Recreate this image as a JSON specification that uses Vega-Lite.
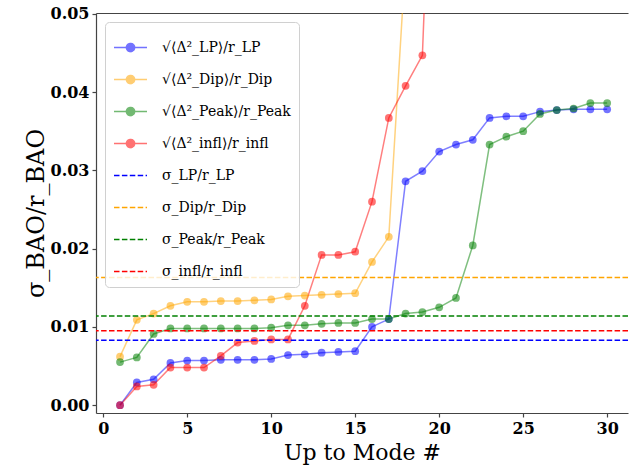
{
  "$schema": "https://vega.github.io/schema/vega-lite/v6.json",
  "width": 532,
  "height": 400,
  "autosize": {"type": "none"},
  "padding": {"left": 96, "top": 13, "right": 1, "bottom": 53},
  "background": "white",
  "config": {
    "view": {"stroke": null},
    "axis": {
      "domainColor": "#444", "domainWidth": 1.2, "tickColor": "#444", "tickSize": 4, "tickWidth": 1.2,
      "grid": false, "labelFont": "DejaVu Serif", "labelFontWeight": "bold", "labelFontSize": 16,
      "labelColor": "black", "titleFont": "DejaVu Serif", "titleFontWeight": "normal", "titleColor": "black"
    },
    "legend": {
      "orient": "none", "legendX": 9, "legendY": 9,
      "padding": 8, "rowPadding": 7, "symbolSize": 1089, "symbolStrokeWidth": 1.5,
      "labelFont": "DejaVu Serif", "labelFontSize": 14, "labelColor": "black", "labelOffset": 14,
      "fillColor": "rgba(255,255,255,0.8)", "strokeColor": "#d0d0d0", "cornerRadius": 4, "title": null
    }
  },
  "datasets": {
    "curves": [
      {"mode": 1, "value": 0.0, "series": "√⟨Δ²_LP⟩/r_LP"},
      {"mode": 2, "value": 0.0029, "series": "√⟨Δ²_LP⟩/r_LP"},
      {"mode": 3, "value": 0.0033, "series": "√⟨Δ²_LP⟩/r_LP"},
      {"mode": 4, "value": 0.0054, "series": "√⟨Δ²_LP⟩/r_LP"},
      {"mode": 5, "value": 0.0057, "series": "√⟨Δ²_LP⟩/r_LP"},
      {"mode": 6, "value": 0.0057, "series": "√⟨Δ²_LP⟩/r_LP"},
      {"mode": 7, "value": 0.0058, "series": "√⟨Δ²_LP⟩/r_LP"},
      {"mode": 8, "value": 0.0058, "series": "√⟨Δ²_LP⟩/r_LP"},
      {"mode": 9, "value": 0.0058, "series": "√⟨Δ²_LP⟩/r_LP"},
      {"mode": 10, "value": 0.0059, "series": "√⟨Δ²_LP⟩/r_LP"},
      {"mode": 11, "value": 0.0064, "series": "√⟨Δ²_LP⟩/r_LP"},
      {"mode": 12, "value": 0.0065, "series": "√⟨Δ²_LP⟩/r_LP"},
      {"mode": 13, "value": 0.0067, "series": "√⟨Δ²_LP⟩/r_LP"},
      {"mode": 14, "value": 0.0068, "series": "√⟨Δ²_LP⟩/r_LP"},
      {"mode": 15, "value": 0.0069, "series": "√⟨Δ²_LP⟩/r_LP"},
      {"mode": 16, "value": 0.0100, "series": "√⟨Δ²_LP⟩/r_LP"},
      {"mode": 17, "value": 0.0110, "series": "√⟨Δ²_LP⟩/r_LP"},
      {"mode": 18, "value": 0.0286, "series": "√⟨Δ²_LP⟩/r_LP"},
      {"mode": 19, "value": 0.0299, "series": "√⟨Δ²_LP⟩/r_LP"},
      {"mode": 20, "value": 0.0324, "series": "√⟨Δ²_LP⟩/r_LP"},
      {"mode": 21, "value": 0.0333, "series": "√⟨Δ²_LP⟩/r_LP"},
      {"mode": 22, "value": 0.0339, "series": "√⟨Δ²_LP⟩/r_LP"},
      {"mode": 23, "value": 0.0367, "series": "√⟨Δ²_LP⟩/r_LP"},
      {"mode": 24, "value": 0.0369, "series": "√⟨Δ²_LP⟩/r_LP"},
      {"mode": 25, "value": 0.0369, "series": "√⟨Δ²_LP⟩/r_LP"},
      {"mode": 26, "value": 0.0375, "series": "√⟨Δ²_LP⟩/r_LP"},
      {"mode": 27, "value": 0.0377, "series": "√⟨Δ²_LP⟩/r_LP"},
      {"mode": 28, "value": 0.0378, "series": "√⟨Δ²_LP⟩/r_LP"},
      {"mode": 29, "value": 0.0378, "series": "√⟨Δ²_LP⟩/r_LP"},
      {"mode": 30, "value": 0.0378, "series": "√⟨Δ²_LP⟩/r_LP"},
      {"mode": 1, "value": 0.0062, "series": "√⟨Δ²_Dip⟩/r_Dip"},
      {"mode": 2, "value": 0.0109, "series": "√⟨Δ²_Dip⟩/r_Dip"},
      {"mode": 3, "value": 0.0117, "series": "√⟨Δ²_Dip⟩/r_Dip"},
      {"mode": 4, "value": 0.0127, "series": "√⟨Δ²_Dip⟩/r_Dip"},
      {"mode": 5, "value": 0.0132, "series": "√⟨Δ²_Dip⟩/r_Dip"},
      {"mode": 6, "value": 0.0132, "series": "√⟨Δ²_Dip⟩/r_Dip"},
      {"mode": 7, "value": 0.0133, "series": "√⟨Δ²_Dip⟩/r_Dip"},
      {"mode": 8, "value": 0.0133, "series": "√⟨Δ²_Dip⟩/r_Dip"},
      {"mode": 9, "value": 0.0134, "series": "√⟨Δ²_Dip⟩/r_Dip"},
      {"mode": 10, "value": 0.0135, "series": "√⟨Δ²_Dip⟩/r_Dip"},
      {"mode": 11, "value": 0.0139, "series": "√⟨Δ²_Dip⟩/r_Dip"},
      {"mode": 12, "value": 0.0140, "series": "√⟨Δ²_Dip⟩/r_Dip"},
      {"mode": 13, "value": 0.0141, "series": "√⟨Δ²_Dip⟩/r_Dip"},
      {"mode": 14, "value": 0.0142, "series": "√⟨Δ²_Dip⟩/r_Dip"},
      {"mode": 15, "value": 0.0143, "series": "√⟨Δ²_Dip⟩/r_Dip"},
      {"mode": 16, "value": 0.0183, "series": "√⟨Δ²_Dip⟩/r_Dip"},
      {"mode": 17, "value": 0.0215, "series": "√⟨Δ²_Dip⟩/r_Dip"},
      {"mode": 18, "value": 0.0570, "series": "√⟨Δ²_Dip⟩/r_Dip"},
      {"mode": 1, "value": 0.0055, "series": "√⟨Δ²_Peak⟩/r_Peak"},
      {"mode": 2, "value": 0.0061, "series": "√⟨Δ²_Peak⟩/r_Peak"},
      {"mode": 3, "value": 0.0091, "series": "√⟨Δ²_Peak⟩/r_Peak"},
      {"mode": 4, "value": 0.0098, "series": "√⟨Δ²_Peak⟩/r_Peak"},
      {"mode": 5, "value": 0.0098, "series": "√⟨Δ²_Peak⟩/r_Peak"},
      {"mode": 6, "value": 0.0098, "series": "√⟨Δ²_Peak⟩/r_Peak"},
      {"mode": 7, "value": 0.0098, "series": "√⟨Δ²_Peak⟩/r_Peak"},
      {"mode": 8, "value": 0.0098, "series": "√⟨Δ²_Peak⟩/r_Peak"},
      {"mode": 9, "value": 0.0098, "series": "√⟨Δ²_Peak⟩/r_Peak"},
      {"mode": 10, "value": 0.0099, "series": "√⟨Δ²_Peak⟩/r_Peak"},
      {"mode": 11, "value": 0.0102, "series": "√⟨Δ²_Peak⟩/r_Peak"},
      {"mode": 12, "value": 0.0102, "series": "√⟨Δ²_Peak⟩/r_Peak"},
      {"mode": 13, "value": 0.0104, "series": "√⟨Δ²_Peak⟩/r_Peak"},
      {"mode": 14, "value": 0.0105, "series": "√⟨Δ²_Peak⟩/r_Peak"},
      {"mode": 15, "value": 0.0105, "series": "√⟨Δ²_Peak⟩/r_Peak"},
      {"mode": 16, "value": 0.0110, "series": "√⟨Δ²_Peak⟩/r_Peak"},
      {"mode": 17, "value": 0.0110, "series": "√⟨Δ²_Peak⟩/r_Peak"},
      {"mode": 18, "value": 0.0117, "series": "√⟨Δ²_Peak⟩/r_Peak"},
      {"mode": 19, "value": 0.0119, "series": "√⟨Δ²_Peak⟩/r_Peak"},
      {"mode": 20, "value": 0.0125, "series": "√⟨Δ²_Peak⟩/r_Peak"},
      {"mode": 21, "value": 0.0137, "series": "√⟨Δ²_Peak⟩/r_Peak"},
      {"mode": 22, "value": 0.0204, "series": "√⟨Δ²_Peak⟩/r_Peak"},
      {"mode": 23, "value": 0.0333, "series": "√⟨Δ²_Peak⟩/r_Peak"},
      {"mode": 24, "value": 0.0343, "series": "√⟨Δ²_Peak⟩/r_Peak"},
      {"mode": 25, "value": 0.0350, "series": "√⟨Δ²_Peak⟩/r_Peak"},
      {"mode": 26, "value": 0.0372, "series": "√⟨Δ²_Peak⟩/r_Peak"},
      {"mode": 27, "value": 0.0377, "series": "√⟨Δ²_Peak⟩/r_Peak"},
      {"mode": 28, "value": 0.0379, "series": "√⟨Δ²_Peak⟩/r_Peak"},
      {"mode": 29, "value": 0.0386, "series": "√⟨Δ²_Peak⟩/r_Peak"},
      {"mode": 30, "value": 0.0386, "series": "√⟨Δ²_Peak⟩/r_Peak"},
      {"mode": 1, "value": 0.0, "series": "√⟨Δ²_infl⟩/r_infl"},
      {"mode": 2, "value": 0.0024, "series": "√⟨Δ²_infl⟩/r_infl"},
      {"mode": 3, "value": 0.0026, "series": "√⟨Δ²_infl⟩/r_infl"},
      {"mode": 4, "value": 0.0048, "series": "√⟨Δ²_infl⟩/r_infl"},
      {"mode": 5, "value": 0.0048, "series": "√⟨Δ²_infl⟩/r_infl"},
      {"mode": 6, "value": 0.0048, "series": "√⟨Δ²_infl⟩/r_infl"},
      {"mode": 7, "value": 0.0063, "series": "√⟨Δ²_infl⟩/r_infl"},
      {"mode": 8, "value": 0.0080, "series": "√⟨Δ²_infl⟩/r_infl"},
      {"mode": 9, "value": 0.0082, "series": "√⟨Δ²_infl⟩/r_infl"},
      {"mode": 10, "value": 0.0084, "series": "√⟨Δ²_infl⟩/r_infl"},
      {"mode": 11, "value": 0.0084, "series": "√⟨Δ²_infl⟩/r_infl"},
      {"mode": 12, "value": 0.0127, "series": "√⟨Δ²_infl⟩/r_infl"},
      {"mode": 13, "value": 0.0192, "series": "√⟨Δ²_infl⟩/r_infl"},
      {"mode": 14, "value": 0.0192, "series": "√⟨Δ²_infl⟩/r_infl"},
      {"mode": 15, "value": 0.0196, "series": "√⟨Δ²_infl⟩/r_infl"},
      {"mode": 16, "value": 0.0260, "series": "√⟨Δ²_infl⟩/r_infl"},
      {"mode": 17, "value": 0.0367, "series": "√⟨Δ²_infl⟩/r_infl"},
      {"mode": 18, "value": 0.0408, "series": "√⟨Δ²_infl⟩/r_infl"},
      {"mode": 19, "value": 0.0447, "series": "√⟨Δ²_infl⟩/r_infl"},
      {"mode": 20, "value": 0.1000, "series": "√⟨Δ²_infl⟩/r_infl"}
    ],
    "levels": [
      {"value": 0.0083, "series": "σ_LP/r_LP"},
      {"value": 0.0163, "series": "σ_Dip/r_Dip"},
      {"value": 0.0114, "series": "σ_Peak/r_Peak"},
      {"value": 0.0095, "series": "σ_infl/r_infl"}
    ]
  },
  "layer": [
    {
      "data": {"name": "curves"},
      "mark": {"type": "line", "clip": true, "opacity": 0.5, "strokeWidth": 1.5},
      "encoding": {
        "x": {"field": "mode", "type": "quantitative",
              "scale": {"domain": [-0.43, 31.24], "nice": false, "zero": false},
              "axis": {"values": [0, 5, 10, 15, 20, 25, 30], "title": "Up to Mode #", "titleFontSize": 22, "titlePadding": 6, "labelPadding": 3}},
        "y": {"field": "value", "type": "quantitative",
              "scale": {"domain": [-0.001, 0.0501], "nice": false, "zero": false},
              "axis": {"values": [0, 0.01, 0.02, 0.03, 0.04, 0.05], "format": ".2f", "title": "σ_BAO/r_BAO", "titleFontSize": 24, "titlePadding": 2, "labelPadding": 3}},
        "color": {"field": "series", "type": "nominal",
                  "scale": {
                    "domain": ["√⟨Δ²_LP⟩/r_LP", "√⟨Δ²_Dip⟩/r_Dip", "√⟨Δ²_Peak⟩/r_Peak", "√⟨Δ²_infl⟩/r_infl", "σ_LP/r_LP", "σ_Dip/r_Dip", "σ_Peak/r_Peak", "σ_infl/r_infl"],
                    "range": ["#0000ff", "#ffa500", "#008000", "#ff0000", "#0000ff", "#ffa500", "#008000", "#ff0000"]
                  },
                  "legend": {
                    "symbolType": {"expr": "indexof(datum.value, 'σ') == 0 ? 'stroke' : 'M-1,0L1,0M-0.25,0A0.25,0.25,0,1,1,0.25,0A0.25,0.25,0,1,1,-0.25,0Z'"},
                    "symbolDash": {"expr": "indexof(datum.value, 'σ') == 0 ? [5.5, 2.4] : [1, 0]"},
                    "symbolOpacity": {"expr": "indexof(datum.value, 'σ') == 0 ? 1 : 0.55"},
                    "symbolFillColor": {"expr": "scale('color', datum.value)"}
                  }}
      }
    },
    {
      "data": {"name": "curves"},
      "mark": {"type": "point", "filled": true, "clip": true, "opacity": 0.55, "size": 60},
      "encoding": {
        "x": {"field": "mode", "type": "quantitative",
              "axis": {"orient": "top", "labels": false, "ticks": false, "title": null, "domain": true}},
        "y": {"field": "value", "type": "quantitative"},
        "color": {"field": "series", "type": "nominal", "legend": null}
      }
    },
    {
      "data": {"name": "levels"},
      "mark": {"type": "rule", "strokeDash": [5.5, 2.4], "strokeWidth": 1.5},
      "encoding": {
        "y": {"field": "value", "type": "quantitative"},
        "color": {"field": "series", "type": "nominal", "legend": null}
      }
    }
  ],
  "resolve": {"axis": {"x": "independent"}}
}
